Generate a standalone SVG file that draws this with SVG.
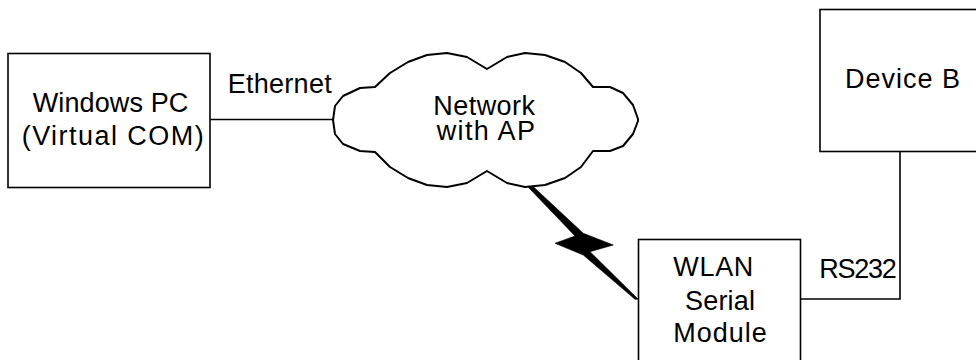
<svg xmlns="http://www.w3.org/2000/svg" width="976" height="360" viewBox="0 0 976 360">
<style>
.box{fill:#fff;stroke:#000;stroke-width:1.6}
.ln{fill:none;stroke:#000;stroke-width:1.6}
.cloud{fill:#fff;stroke:#000;stroke-width:2;stroke-linejoin:round}
.t{font-family:"Liberation Sans",Arial,sans-serif;font-size:27px;fill:#000}
</style>
<rect width="976" height="360" fill="#fff"/>
<g id="connectors">
<line class="ln" x1="210" y1="119.5" x2="334" y2="119.5"/>
<polyline class="ln" points="900,152 900,299 801,299"/>
<polygon id="bolt" fill="#000" stroke="#000" stroke-width="0.6" stroke-linejoin="miter" points="528.3,187.3 533.3,186.7 583.3,233.3 613.3,245 590,251.7 638.3,299.3 635,299.3 583.3,255 555,243.3 575,236"/>
<text class="t" x="227.7" y="93.3" textLength="104" lengthAdjust="spacing">Ethernet</text>
<text class="t" x="819.3" y="278.3" textLength="77.5" lengthAdjust="spacing">RS232</text>
</g>
<g id="pc">
<rect class="box" x="8" y="53.5" width="202" height="134"/>
<text class="t" x="32.7" y="111.7" textLength="155.6" lengthAdjust="spacing">Windows PC</text>
<text class="t" x="21.7" y="145" textLength="182" lengthAdjust="spacing">(Virtual COM)</text>
</g>
<g id="network">
<polygon class="cloud" points="333,120 335,106 343,96 360,88 375,87 390,73 408,62 427,55 447,53 467,57 487,69 507,57 525,53 545,55 565,62 581,73 593,87 610,87 623,93 633,105 638,119 638,121 633,134 623,146 610,151 593,151 581,167 565,178 545,185 525,187 507,183 487,171 467,183 447,187 427,185 408,178 390,167 375,152 360,151 343,144 335,134"/>
<text class="t" x="433.3" y="115" textLength="101.7" lengthAdjust="spacing">Network</text>
<text class="t" x="436.7" y="140" textLength="98.3" lengthAdjust="spacing">with AP</text>
</g>
<g id="wlan">
<rect class="box" x="638.5" y="239.5" width="162" height="130"/>
<text class="t" x="673.3" y="276" textLength="80" lengthAdjust="spacing">WLAN</text>
<text class="t" x="685" y="310" textLength="70" lengthAdjust="spacing">Serial</text>
<text class="t" x="673.3" y="341.7" textLength="93.4" lengthAdjust="spacing">Module</text>
</g>
<g id="deviceb">
<rect class="box" x="820" y="9.5" width="170" height="142"/>
<text class="t" x="845" y="88.3" textLength="115" lengthAdjust="spacing">Device B</text>
</g>
</svg>
